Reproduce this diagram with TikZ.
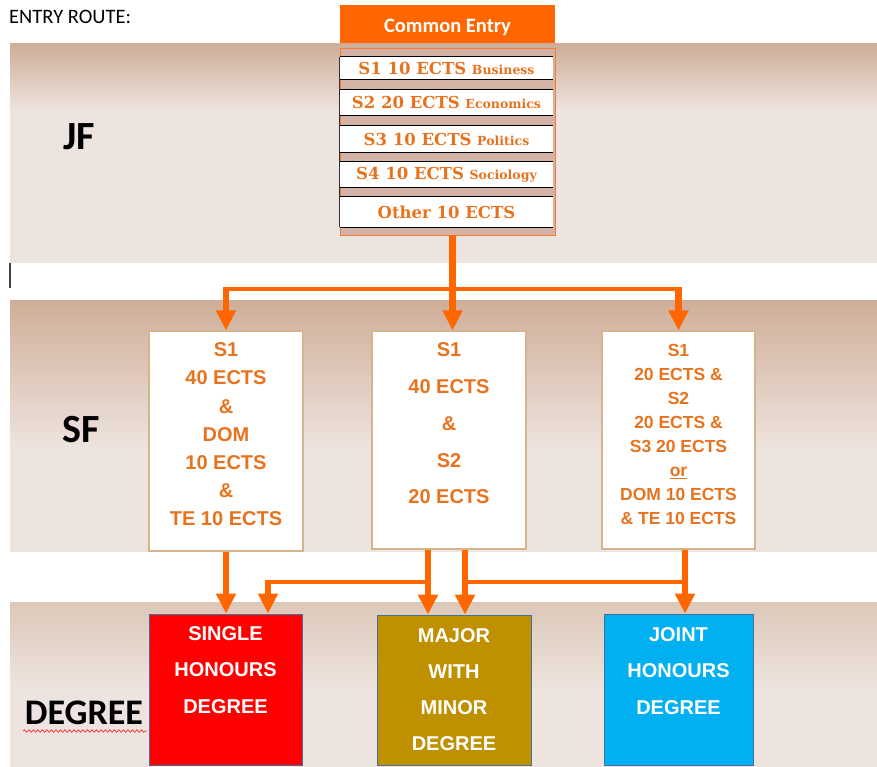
\documentclass[tikz,border=0pt]{standalone}
\usepackage{fontspec}
\setmainfont{Liberation Sans}
\newfontfamily\calibri{Carlito}
\newfontfamily\cambria{DejaVu Serif}
\usetikzlibrary{arrows.meta,decorations.pathmorphing}
\definecolor{orng}{HTML}{FF6600}
\definecolor{txtor}{HTML}{E8731E}
\definecolor{bandtop}{HTML}{CFAE98}
\definecolor{bandlt}{HTML}{EEE4DF}
\definecolor{dgtop}{HTML}{DCC8B8}
\definecolor{stackbg}{HTML}{D4B2A6}
\definecolor{sfborder}{HTML}{D6B48E}
\definecolor{dgborder}{HTML}{41719C}
\definecolor{majorc}{HTML}{BF9000}
\definecolor{jointc}{HTML}{00B0F0}
\tikzset{
  conn/.style={draw=orng, line width=6.5pt, -{Triangle[width=19pt,length=20pt]}},
  plainconn/.style={draw=orng, line width=4pt},
  rowbox/.style={rectangle, fill=white, minimum width=213pt, inner sep=0pt, text=txtor, font=\cambria\bfseries\fontsize{16.5}{19}\selectfont},
  sfbox/.style={rectangle, draw=sfborder, line width=1.2pt, fill=white, inner sep=0pt},
  sftext/.style={align=center, text=txtor, font=\bfseries\fontsize{20}{28.2}\selectfont, inner sep=0pt},
  dgbox/.style={rectangle, draw=dgborder, line width=0.8pt, inner sep=0pt, minimum width=153pt, minimum height=151pt},
  dgtext/.style={align=center, text=white, font=\bfseries\fontsize{20}{36.2}\selectfont, inner sep=0pt},
  bandlabel/.style={font=\calibri\bfseries, text=black, inner sep=0pt}
}
\begin{document}
\begin{tikzpicture}[x=1pt,y=-1pt]
\useasboundingbox (0,0) rectangle (877,767);
% bands
\fill[bandlt] (10,44) rectangle (877,263);
\shade[top color=bandtop,bottom color=bandlt] (10,44) rectangle (877,112);
\fill[bandlt] (10,300) rectangle (877,552);
\shade[top color=bandtop,bottom color=bandlt] (10,300) rectangle (877,450);
\fill[bandlt] (10,602) rectangle (877,767);
\shade[top color=dgtop,bottom color=bandlt] (10,602) rectangle (877,690);
\draw[black!75, line width=1.2pt] (10,263) -- (10,288);

% labels
\node[font=\calibri\fontsize{20.5}{24}\selectfont, anchor=west, inner sep=0pt] (entry) at (9,17) {ENTRY ROUTE:};
\node[bandlabel, font=\calibri\bfseries\fontsize{40}{44}\selectfont] (jf) at (79,137) {JF};
\node[bandlabel, font=\calibri\bfseries\fontsize{40}{44}\selectfont] (sf) at (81,430) {SF};
\node[bandlabel, font=\calibri\bfseries\fontsize{36}{40}\selectfont] (deg) at (84,713) {DEGREE};
\draw[red!85, line width=0.7pt, decorate, decoration={snake, amplitude=1.2pt, segment length=4.5pt}] (23,731) -- (147,731);

% common entry
\node[rectangle, fill=orng, minimum width=215pt, minimum height=38pt, inner sep=0pt] (common) at (447.5,24) {};
\node[text=white, inner sep=0pt, font=\calibri\bfseries\fontsize{20.5}{24}\selectfont] (commont) at (447.5,27) {Common Entry};
\node[rectangle, draw=orng!70!stackbg, line width=0.8pt, fill=stackbg, minimum width=215pt, minimum height=187pt, inner sep=0pt] (stack) at (447.5,141.5) {};
\node[rowbox, minimum height=22pt] (r1) at (446.5,68) {S1 10 ECTS {\fontsize{12.5}{14}\selectfont Business}};
\node[rowbox, minimum height=25pt] (r2) at (446.5,102.5) {S2 20 ECTS {\fontsize{12.5}{14}\selectfont Economics}};
\node[rowbox, minimum height=26pt] (r3) at (446.5,139) {S3 10 ECTS {\fontsize{12.5}{14}\selectfont Politics}};
\node[rowbox, minimum height=25pt] (r4) at (446.5,174.5) {S4 10 ECTS {\fontsize{12.5}{14}\selectfont Sociology}};
\node[rowbox, minimum height=30pt] (r5) at (446.5,212) {Other 10 ECTS};
\foreach \r in {r1,r2,r3,r4,r5}{
  \draw[black, line width=1pt] (\r.north west) -- (\r.north east);
  \draw[black, line width=1pt] (\r.south west) -- (\r.south east);
}
\draw[black!80, line width=1pt] (r1.north west) -- (r5.south west);

% SF boxes
\node[sfbox, minimum width=154pt, minimum height=220pt] (box1) at (226,441) {};
\node[sfbox, minimum width=154pt, minimum height=218pt] (box2) at (449,440) {};
\node[sfbox, minimum width=153pt, minimum height=218pt] (box3) at (678.5,440) {};
\node[sftext] (t1) at (226,434.5) {S1\\40 ECTS\\\&\\DOM\\10 ECTS\\\&\\TE 10 ECTS};
\node[sftext, font=\bfseries\fontsize{20}{36.75}\selectfont] (t2) at (449,423.5) {S1\\40 ECTS\\\&\\S2\\20 ECTS};
\node[sftext, font=\bfseries\fontsize{17.5}{24.1}\selectfont] (t3) at (678.5,434.5) {S1\\20 ECTS \&\\S2\\20 ECTS \&\\S3 20 ECTS\\\underline{or}\\DOM 10 ECTS\\\& TE 10 ECTS};

% degree boxes
\node[dgbox, fill=red] (single) at (225.5,689.5) {};
\node[dgbox, fill=majorc, minimum width=154pt, minimum height=150pt] (major) at (454,690) {};
\node[dgbox, fill=jointc, minimum width=149pt] (joint) at (678.5,689.5) {};
\node[dgtext] (st) at (225.5,670) {SINGLE\\HONOURS\\DEGREE};
\node[dgtext] (mt) at (454,689.5) {MAJOR\\WITH\\MINOR\\DEGREE};
\node[dgtext] (jt) at (678.5,671) {JOINT\\HONOURS\\DEGREE};

% top connectors
\coordinate (split) at (452.5,289);
\draw[plainconn] ([xshift=-3.25pt]split -| box1.north) -- ([xshift=3.25pt]split -| box3.north);
\draw[conn] (split |- stack.south) -- (split |- box2.north);
\draw[conn] ([yshift=2pt]split -| box1.north) -- (box1.north);
\draw[conn] ([yshift=2pt]split -| box3.north) -- (box3.north);

% bottom connectors
\coordinate (m1) at (428,582);
\coordinate (m2) at (465,582);
\coordinate (s2) at (268,582);
\coordinate (jj) at (685,582);
\draw[conn] (box1.south) -- (box1.south |- single.north);
\draw[plainconn] (m1) -- ([xshift=-3.25pt]s2);
\draw[plainconn] (m2) -- (jj);
\draw[conn] (m1 |- box2.south) -- (m1 |- major.north);
\draw[conn] (m2 |- box2.south) -- (m2 |- major.north);
\draw[conn] ([yshift=2pt]s2) -- (s2 |- single.north);
\draw[conn] (jj |- box3.south) -- (jj |- joint.north);
\end{tikzpicture}
\end{document}
